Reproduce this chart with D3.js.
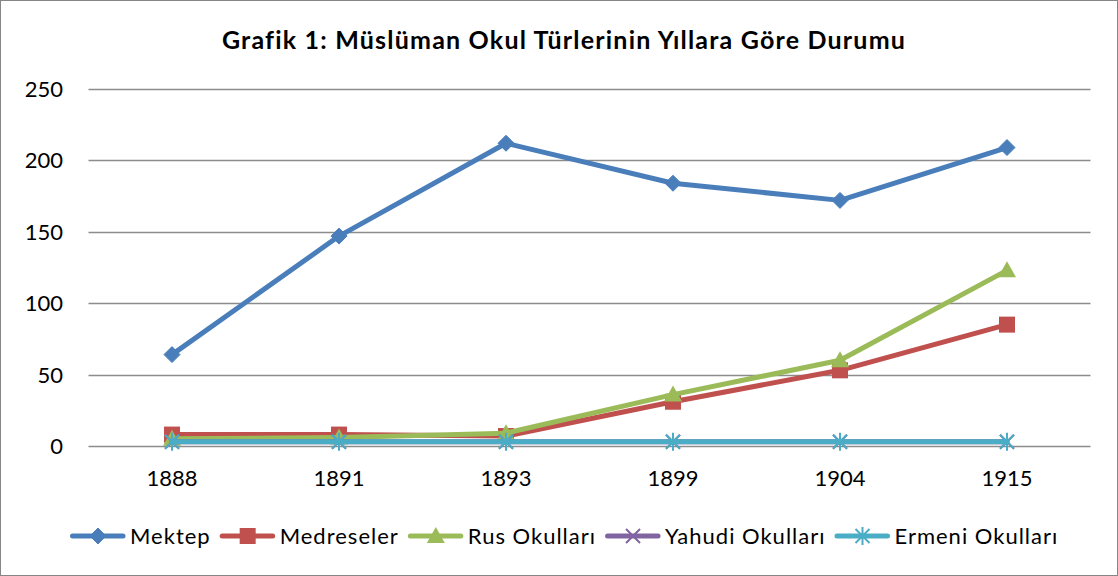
<!DOCTYPE html>
<html>
<head>
<meta charset="utf-8">
<script src="https://cdn.jsdelivr.net/npm/d3@7"></script>
<style>
  body { margin: 0; background: #fff; }
  text { font-family: Lato, "Open Sans", sans-serif; fill: #000; }
</style>
</head>
<body>
<svg id="chart" width="1118" height="576"></svg>
<script>
// data
var years = ["1888", "1891", "1893", "1899", "1904", "1915"];
var seriesNames = ["Mektep", "Medreseler", "Rus Okulları", "Yahudi Okulları", "Ermeni Okulları"];
var mektep = [64, 147, 212, 184, 172, 209];
var medreseler = [8, 8, 7, 31, 53, 85];
var rusOkullari = [5, 6, 9, 36, 60, 123];
var yahudiOkullari = [3, 3, 3, 3, 3, 3];
var ermeniOkullari = [3, 3, 3, 3, 3, 3];
var yTicks = [0, 50, 100, 150, 200, 250];
var title = "Grafik 1: Müslüman Okul Türlerinin Yıllara Göre Durumu";

var colors = ["#4a7ebb", "#c0504d", "#9bbb59", "#8064a2", "#4bacc6"];
var markers = ["diamond", "square", "triangle", "x", "star"];
var allValues = [mektep, medreseler, rusOkullari, yahudiOkullari, ermeniOkullari];

var svg = d3.select("#chart");
var margin = {left: 88.5, right: 27.5, top: 89, bottom: 130};
var width = 1118, height = 576;

// outer frame
svg.append("rect")
    .attr("x", 0.5).attr("y", 0.5)
    .attr("width", width - 1).attr("height", height - 1)
    .attr("fill", "#fff").attr("stroke", "#868686");

var x = d3.scalePoint()
    .domain(years)
    .range([margin.left, width - margin.right])
    .padding(0.5);

var y = d3.scaleLinear()
    .domain([0, 250])
    .range([446, 89]);

// gridlines
svg.append("g")
    .selectAll("line")
    .data(yTicks)
    .enter().append("line")
    .attr("x1", margin.left).attr("x2", width - margin.right)
    .attr("y1", function(d) { return Math.round(y(d)) + 0.5; })
    .attr("y2", function(d) { return Math.round(y(d)) + 0.5; })
    .attr("stroke", "#8c8c8c")
    .attr("stroke-width", 1.3);

// y labels
svg.append("g")
    .selectAll("text")
    .data(yTicks)
    .enter().append("text")
    .attr("x", 63)
    .attr("y", function(d) { return y(d); })
    .attr("dy", "0.36em")
    .attr("text-anchor", "end")
    .style("font-size", "22px")
    .text(function(d) { return d; });

// x labels
svg.append("g")
    .selectAll("text")
    .data(years)
    .enter().append("text")
    .attr("x", function(d) { return x(d); })
    .attr("y", 486)
    .attr("text-anchor", "middle")
    .style("font-size", "22px")
    .text(function(d) { return d; });

// title
svg.append("text")
    .attr("x", 564)
    .attr("y", 49)
    .attr("text-anchor", "middle")
    .style("font-size", "25px")
    .style("font-weight", "bold")
    .style("letter-spacing", "1.2px")
    .text(title);

function drawMarker(g, type, color, cx, cy) {
    if (type === "diamond") {
        g.append("path")
            .attr("d", "M" + cx + "," + (cy - 8) + "L" + (cx + 8) + "," + cy + "L" + cx + "," + (cy + 8) + "L" + (cx - 8) + "," + cy + "Z")
            .attr("fill", color).attr("stroke", color).attr("stroke-width", 1);
    } else if (type === "square") {
        g.append("rect")
            .attr("x", cx - 8).attr("y", cy - 8)
            .attr("width", 16).attr("height", 16)
            .attr("fill", color);
    } else if (type === "triangle") {
        g.append("path")
            .attr("d", "M" + cx + "," + (cy - 9) + "L" + (cx + 9) + "," + (cy + 7) + "L" + (cx - 9) + "," + (cy + 7) + "Z")
            .attr("fill", color);
    } else if (type === "x") {
        g.append("path")
            .attr("d", "M" + (cx - 7) + "," + (cy - 7) + "L" + (cx + 7) + "," + (cy + 7) + "M" + (cx + 7) + "," + (cy - 7) + "L" + (cx - 7) + "," + (cy + 7))
            .attr("stroke", color).attr("stroke-width", 2).attr("fill", "none");
    } else if (type === "star") {
        g.append("path")
            .attr("d", "M" + (cx - 7) + "," + (cy - 7) + "L" + (cx + 7) + "," + (cy + 7) + "M" + (cx + 7) + "," + (cy - 7) + "L" + (cx - 7) + "," + (cy + 7) + "M" + cx + "," + (cy - 9) + "L" + cx + "," + (cy + 9))
            .attr("stroke", color).attr("stroke-width", 2).attr("fill", "none");
    }
}

var line = d3.line()
    .x(function(d, i) { return x(years[i]); })
    .y(function(d) { return y(d); });

// series
allValues.forEach(function(vals, s) {
    var g = svg.append("g");
    g.append("path")
        .datum(vals)
        .attr("d", line)
        .attr("fill", "none")
        .attr("stroke", colors[s])
        .attr("stroke-width", 5)
        .attr("stroke-linejoin", "round")
        .attr("stroke-linecap", "round");
    vals.forEach(function(v, i) {
        drawMarker(g, markers[s], colors[s], x(years[i]), y(v));
    });
});

// legend
var legend = svg.append("g");
var lx = 70, ly = 536;
seriesNames.forEach(function(name, s) {
    var g = legend.append("g");
    g.append("line")
        .attr("x1", lx + 2.5).attr("x2", lx + 53)
        .attr("y1", ly).attr("y2", ly)
        .attr("stroke", colors[s]).attr("stroke-width", 5)
        .attr("stroke-linecap", "round");
    drawMarker(g, markers[s], colors[s], lx + 28, ly);
    var t = g.append("text")
        .attr("x", lx + 60)
        .attr("y", ly)
        .attr("dy", "0.36em")
        .style("font-size", "22px")
        .style("letter-spacing", "1px")
        .text(name);
    lx += 60 + t.node().getComputedTextLength() + 9;
});
</script>
</body>
</html>
